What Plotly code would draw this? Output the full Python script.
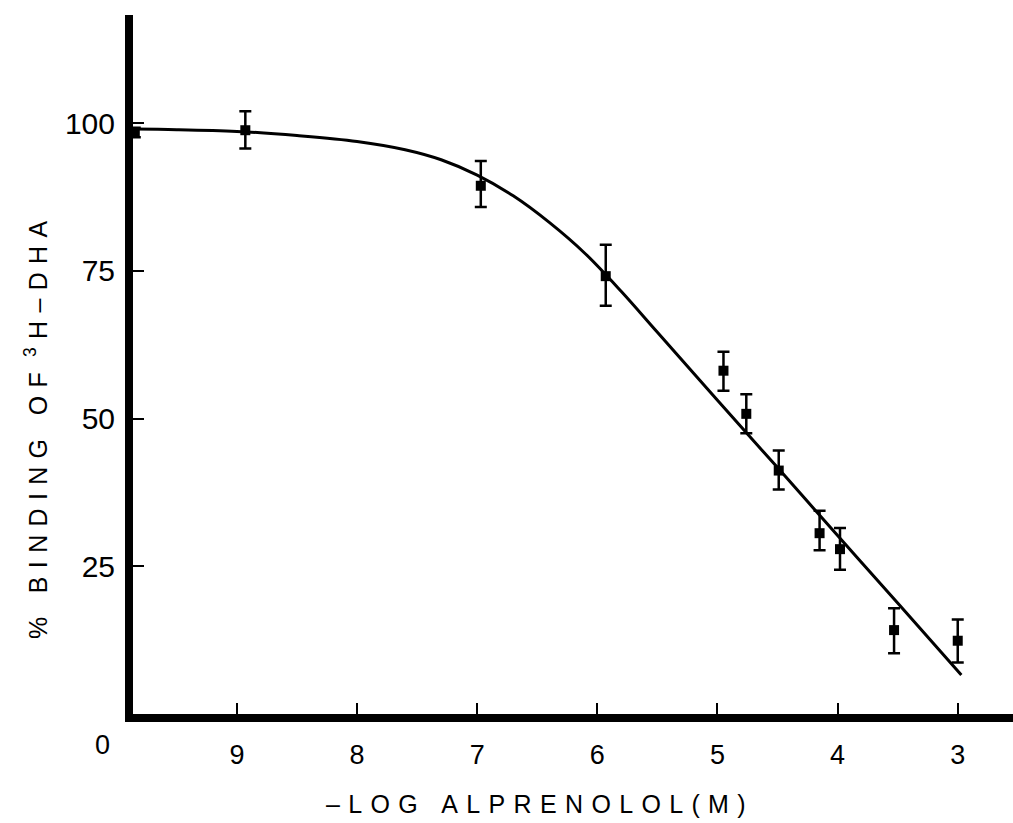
import plotly.graph_objects as go

# ---- data ----
log_conc = [9.85, 8.93, 6.97, 5.93, 4.95, 4.76, 4.49, 4.15, 3.98, 3.53, 3.00]
binding = [98.4, 98.8, 89.4, 74.1, 58.1, 50.8, 41.2, 30.6, 27.9, 14.2, 12.4]
err_plus = [0.8, 3.2, 4.2, 5.3, 3.2, 3.3, 3.4, 3.8, 3.6, 3.7, 3.6]
err_minus = [0.8, 3.1, 3.6, 5.0, 3.4, 3.3, 3.2, 2.9, 3.5, 3.9, 3.7]

fit_x = [9.93, 9.5, 9.0, 8.5, 8.0, 7.6, 7.3, 7.0, 6.7, 6.4, 6.1, 5.8,
         5.5, 5.0, 4.5, 4.0, 3.5, 2.97]
fit_y = [99.0, 98.9, 98.6, 97.9, 96.9, 95.5, 93.8, 91.2, 87.7, 83.2, 77.9, 71.5,
         64.6, 53.1, 41.7, 30.2, 18.8, 6.6]

x_tick_vals = [9, 8, 7, 6, 5, 4, 3]
x_tick_text = ["9", "8", "7", "6", "5", "4", "3"]
y_tick_vals = [25, 50, 75, 100]
y_tick_text = ["25", "50", "75", "100"]
origin_label = "0"

x_title = "–LOG ALPRENOLOL(M)"
y_title_parts = ["% BINDING OF ", "3", "H–DHA"]

FONT = "Liberation Sans, Arial, Helvetica, sans-serif"


def spaced(s, sep):
    return sep.join(list(s))


fig = go.Figure()

fig.add_trace(go.Scatter(
    x=fit_x, y=fit_y, mode="lines",
    line=dict(color="black", width=3, shape="spline", smoothing=1.0),
    hoverinfo="skip", showlegend=False,
))

fig.add_trace(go.Scatter(
    x=log_conc, y=binding, mode="markers",
    marker=dict(symbol="square", size=10, color="black"),
    error_y=dict(type="data", array=err_plus, arrayminus=err_minus,
                 color="black", thickness=2.5, width=6),
    showlegend=False,
))

sep_x = "\u2004"
sep_y = "\u2004"
y_title = (spaced(y_title_parts[0], sep_y) + "<sup>" + y_title_parts[1] + "</sup>"
           + sep_y + spaced(y_title_parts[2], sep_y))

L, R, T, B = 133, 0, 15, 109
W, H = 1013, 823
pw, ph = W - L - R, H - T - B


def px_to_paper_x(px):
    return (px - L) / pw


def px_to_paper_y(py):
    return (H - B - py) / ph


fig.add_annotation(text=spaced(x_title, sep_x), xref="paper", yref="paper",
                   x=px_to_paper_x(536), y=px_to_paper_y(804),
                   xanchor="center", yanchor="middle",
                   showarrow=False, font=dict(family=FONT, size=25, color="black"))
fig.add_annotation(text=y_title, xref="paper", yref="paper",
                   x=px_to_paper_x(36), y=px_to_paper_y(430), textangle=-90,
                   xanchor="center", yanchor="middle",
                   showarrow=False, font=dict(family=FONT, size=25, color="black"))
fig.add_annotation(text=origin_label, xref="paper", yref="paper",
                   x=px_to_paper_x(102), y=px_to_paper_y(745),
                   xanchor="center", yanchor="middle",
                   showarrow=False, font=dict(family=FONT, size=27, color="black"))

fig.update_layout(
    width=W, height=H,
    margin=dict(l=L, r=R, t=T, b=B),
    paper_bgcolor="white", plot_bgcolor="white",
    font=dict(family=FONT, color="black"),
    xaxis=dict(range=[9.865, 2.54], tickvals=x_tick_vals, ticktext=x_tick_text,
               showline=True, linewidth=8, linecolor="black",
               ticks="inside", ticklen=11, tickwidth=2, tickcolor="black",
               showgrid=False, zeroline=False,
               tickfont=dict(family=FONT, size=27, color="black"),
               ticklabelstandoff=10),
    yaxis=dict(range=[0, 118.3], tickvals=y_tick_vals, ticktext=y_tick_text,
               showline=True, linewidth=8, linecolor="black",
               ticks="inside", ticklen=11, tickwidth=2, tickcolor="black",
               showgrid=False, zeroline=False,
               tickfont=dict(family=FONT, size=30, color="black"),
               ticklabelstandoff=4),
)

fig.write_html("out.html")
